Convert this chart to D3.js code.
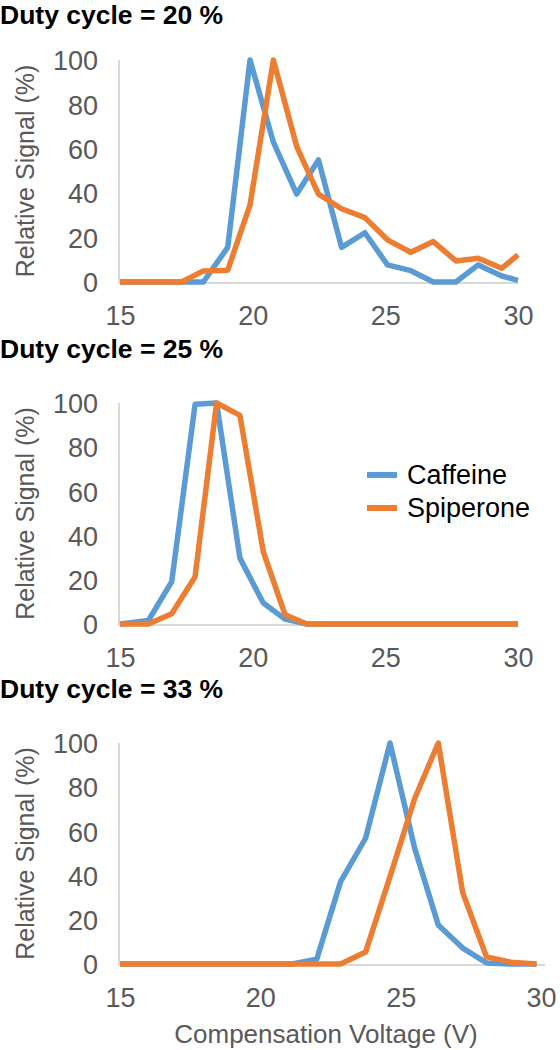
<!DOCTYPE html>
<html>
<head>
<meta charset="utf-8">
<script src="https://cdn.jsdelivr.net/npm/d3@7"></script>
<style>
  html, body { margin: 0; padding: 0; background: #ffffff; }
  svg { display: block; }
</style>
</head>
<body>
<svg id="chart" width="560" height="1050"></svg>
<script>
// ---------- DATA ----------
const seriesNames = ["Caffeine", "Spiperone"];
const xTicks = [15, 20, 25, 30];
const yTicks = [0, 20, 40, 60, 80, 100];
const titles = ["Duty cycle = 20 %", "Duty cycle = 25 %", "Duty cycle = 33 %"];

// Duty cycle 20 %
const cv20 = [15, 17.32, 18.14, 19.06, 19.9, 20.78, 21.66, 22.48, 23.35, 24.23, 25.08, 25.96, 26.81, 27.66, 28.5, 29.39, 30.0];
const caffeine20 = [0, 0, 0, 15.6, 100, 63, 39.6, 55, 15.6, 22.2, 7.7, 5.1, 0, 0, 7.7, 2.7, 0.7];
const spiperone20 = [0, 0, 5, 5.3, 34.7, 100, 61, 39.6, 33, 29, 19, 13.4, 18.2, 9.5, 10.7, 6.2, 12.2];

// Duty cycle 25 %
const cv25 = [15, 16.07, 16.95, 17.83, 18.64, 19.52, 20.4, 21.22, 22.04, 30.0];
const caffeine25 = [0, 1.6, 19.2, 99.4, 100, 29.8, 9.5, 2.2, 0, 0];
const spiperone25 = [0, 0, 4.6, 21.4, 100, 94.4, 32.7, 4.2, 0, 0];

// Duty cycle 33 %
const cv33 = [15, 21.14, 22.01, 22.86, 23.75, 24.62, 25.5, 26.34, 27.21, 28.06, 28.93, 29.84];
const caffeine33 = [0, 0, 2.2, 37.3, 56.9, 100, 52.3, 17.7, 7.2, 0.5, 0, 0];
const spiperone33 = [0, 0, 0, 0, 5.4, 39.5, 74.9, 100, 32.3, 3.2, 0.8, 0];

// ---------- LAYOUT / STYLE ----------
const colors = ["#5B9BD5", "#ED7D31"];
const font = "'Liberation Sans', Arial, sans-serif";
const panels = [
  { cv: cv20, ys: [caffeine20, spiperone20], title: titles[0], titleY: 24, top: 60, bottom: 282, x0: 120, x1: 518, axisEnd: 518, legend: false },
  { cv: cv25, ys: [caffeine25, spiperone25], title: titles[1], titleY: 358, top: 403, bottom: 624, x0: 120, x1: 518, axisEnd: 518, legend: true },
  { cv: cv33, ys: [caffeine33, spiperone33], title: titles[2], titleY: 698, top: 743, bottom: 964, x0: 120, x1: 541, axisEnd: 545, legend: false }
];

const svg = d3.select("#chart");

panels.forEach(p => {
  const x = d3.scaleLinear().domain([15, 30]).range([p.x0, p.x1]);
  const y = d3.scaleLinear().domain([0, 100]).range([p.bottom, p.top]);
  const g = svg.append("g");

  // title
  g.append("text")
    .attr("x", 0).attr("y", p.titleY)
    .attr("font-family", font).attr("font-size", 26.5).attr("font-weight", "bold")
    .attr("fill", "#000").text(p.title);

  // axis lines
  g.append("line")
    .attr("x1", x(15) - 1).attr("x2", x(15) - 1)
    .attr("y1", y(100)).attr("y2", y(0))
    .attr("stroke", "#d9d9d9").attr("stroke-width", 2);
  g.append("line")
    .attr("x1", x(15) - 2).attr("x2", p.axisEnd)
    .attr("y1", y(0) + 1).attr("y2", y(0) + 1)
    .attr("stroke", "#d9d9d9").attr("stroke-width", 2);

  // y tick labels
  const yAxis = d3.axisLeft(y).tickValues(yTicks).tickSize(0).tickPadding(0);
  const ya = g.append("g").attr("transform", `translate(${x(15) - 22},0)`).call(yAxis);
  ya.select(".domain").remove();
  ya.selectAll("text")
    .attr("font-family", font).attr("font-size", 27).attr("fill", "#595959")
    .attr("dy", "0.36em");

  // x tick labels
  const xAxis = d3.axisBottom(x).tickValues(xTicks).tickSize(0).tickPadding(0).tickFormat(d3.format("d"));
  const xa = g.append("g").attr("transform", `translate(0,${y(0) + 43})`).call(xAxis);
  xa.select(".domain").remove();
  xa.selectAll("text")
    .attr("font-family", font).attr("font-size", 27).attr("fill", "#595959")
    .attr("dy", 0).attr("y", 0);

  // y axis title
  g.append("text")
    .attr("transform", `translate(34,${(y(0) + y(100)) / 2}) rotate(-90)`)
    .attr("text-anchor", "middle")
    .attr("font-family", font).attr("font-size", 25).attr("fill", "#595959")
    .text("Relative Signal (%)");

  // lines
  const line = d3.line().x(d => x(d[0])).y(d => y(d[1]));
  p.ys.forEach((vals, i) => {
    const pts = p.cv.map((c, k) => [c, vals[k]]);
    g.append("path")
      .attr("d", line(pts))
      .attr("fill", "none")
      .attr("stroke", colors[i])
      .attr("stroke-width", 5.5)
      .attr("stroke-linejoin", "round");
  });

  // legend
  if (p.legend) {
    const ly = [475, 508];
    seriesNames.forEach((name, i) => {
      g.append("line")
        .attr("x1", 367).attr("x2", 397)
        .attr("y1", ly[i]).attr("y2", ly[i])
        .attr("stroke", colors[i]).attr("stroke-width", 6);
      g.append("text")
        .attr("x", 407).attr("y", ly[i] + 9)
        .attr("font-family", font).attr("font-size", 27).attr("fill", "#000")
        .text(name);
    });
  }
});

// x axis title
svg.append("text")
  .attr("x", 326).attr("y", 1043)
  .attr("text-anchor", "middle")
  .attr("font-family", font).attr("font-size", 26).attr("fill", "#595959")
  .text("Compensation Voltage (V)");
</script>
</body>
</html>
